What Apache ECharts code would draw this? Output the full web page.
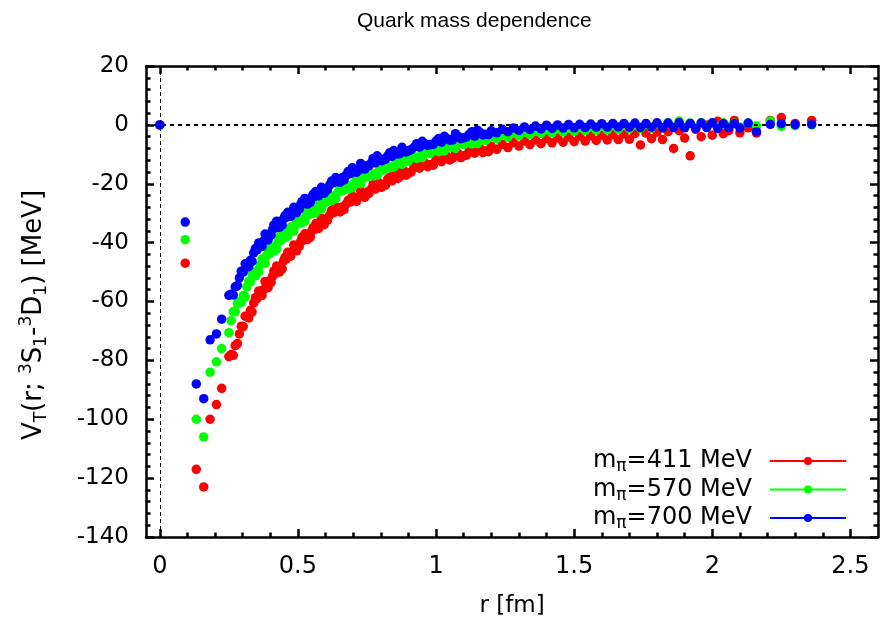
<!DOCTYPE html>
<html>
<head>
<meta charset="utf-8">
<script src="https://cdn.jsdelivr.net/npm/echarts@6/dist/echarts.min.js"></script>
<style>
html,body{margin:0;padding:0;background:#fff;}
#chart{width:885px;height:628px;}
</style>
</head>
<body>
<div id="chart"></div>
<script>
// ---- data ----
const rValues = [
  0, 0.092, 0.132, 0.159, 0.182, 0.205, 0.224, 0.258, 0.273, 0.288,
  0.302, 0.315, 0.328, 0.340, 0.352, 0.364, 0.375, 0.386, 0.397, 0.408,
  0.418, 0.428, 0.438, 0.448, 0.458, 0.468, 0.48, 0.49, 0.50, 0.51,
  0.52, 0.53, 0.54, 0.55, 0.56, 0.57, 0.58, 0.59, 0.60, 0.615,
  0.63, 0.645, 0.66, 0.675, 0.69, 0.705, 0.72, 0.735, 0.75, 0.765,
  0.78, 0.795, 0.81, 0.825, 0.84, 0.855, 0.87, 0.885, 0.90, 0.92,
  0.94, 0.96, 0.98, 1.00, 1.02, 1.04, 1.06, 1.08, 1.10, 1.12,
  1.14, 1.16, 1.18, 1.20, 1.22, 1.24, 1.26, 1.28, 1.30, 1.32,
  1.34, 1.36, 1.38, 1.40, 1.42, 1.44, 1.46, 1.48, 1.50, 1.52,
  1.54, 1.56, 1.58, 1.60, 1.62, 1.64, 1.66, 1.68, 1.70, 1.72,
  1.74, 1.76, 1.78, 1.80, 1.82, 1.84, 1.86, 1.88, 1.90, 1.92,
  1.94, 1.96, 1.98, 2.00, 2.02, 2.04, 2.06, 2.08, 2.10, 2.13,
  2.16, 2.21, 2.25, 2.30, 2.36
];
const vRed = [
  0, -47, -117, -123, -100, -95, -89.5, -78, -75, -71,
  -68.5, -65, -63, -60.5, -59, -57, -56, -54, -53, -51.5,
  -50.5, -48.8, -48, -46.2, -45.5, -43.8, -43, -41.6, -41, -39.6,
  -39.2, -37.8, -37.2, -36, -35.5, -34.2, -33.8, -32.6, -32.1, -30.6,
  -29.8, -28.5, -27.9, -26.8, -26.2, -25, -24.5, -23.3, -22.8, -21.8,
  -21.8, -19.8, -20.3, -18.4, -19.0, -16.9, -17.5, -15.7, -16.4, -14.3,
  -14.7, -13.0, -13.5, -11.8, -12.5, -10.7, -11.3, -9.7, -10.5, -8.8,
  -9.6, -8.0, -8.9, -7.3, -8.3, -6.6, -7.7, -6.0, -7.2, -5.5,
  -6.7, -5.1, -6.4, -4.7, -6.1, -4.4, -5.9, -4.1, -5.7, -3.9,
  -5.5, -3.7, -5.3, -3.5, -5.1, -3.3, -5.0, -3.1, -4.9, -3.0,
  -6.8, -2.8, -4.7, -2.5, -5.0, -2.3, -8.0, -2.0, -4.5, -10.5,
  -1.5, -4.0, 0, -3.5, 1.2, -3.0, -2.0, 1.5, -2.7, -1.0,
  -2.8, 1.5, 2.5, 0.5, 1.5
];
const vGreen = [
  0, -39, -100, -106, -84, -80.5, -76, -66.5, -63.5, -60,
  -58, -55, -53.3, -51, -49.5, -47.5, -46.3, -44.5, -43.8, -42,
  -41.3, -39.8, -39.2, -37.8, -37.2, -35.9, -35.4, -34.1, -33.6, -32.4,
  -32, -30.9, -30.5, -29.4, -29.1, -28, -27.7, -26.7, -26.4, -25.1,
  -24.2, -23, -22.4, -21.3, -20.7, -19.7, -19.2, -18.2, -17.7, -16.8,
  -16.6, -15.3, -15.4, -14.0, -14.3, -12.9, -13.2, -11.9, -12.3, -10.7,
  -10.8, -9.4, -9.7, -8.3, -8.7, -7.2, -7.6, -6.2, -6.7, -5.3,
  -5.9, -4.6, -5.3, -4.0, -4.7, -3.4, -4.2, -2.9, -3.7, -2.4,
  -3.3, -2.0, -2.9, -1.7, -2.7, -1.4, -2.4, -1.1, -2.2, -0.9,
  -2.0, -0.7, -1.8, -0.5, -1.7, -0.3, -1.5, -0.1, -1.3, 0,
  -1.2, 0.2, -1.1, 0.4, -1.0, 0.7, -0.9, 1.3, -0.8, 0.6,
  -0.9, 0.8, -0.7, 0.5, -0.8, 0.7, -0.5, 0.6, -0.7, 0.6,
  -0.3, 1.3, -0.5, -0.3, 0
];
const vBlue = [
  0, -33, -88, -93, -73, -71, -66, -57.5, -55, -52,
  -50, -47.5, -46, -43.5, -42.5, -40.5, -39.5, -37.8, -37.2, -35.6,
  -35, -33.6, -33.2, -31.9, -31.4, -30.3, -29.9, -28.6, -28.2, -27.1,
  -26.8, -25.8, -25.5, -24.5, -24.3, -23.2, -22.9, -21.9, -21.6, -20.4,
  -19.6, -18.5, -18, -17, -16.6, -15.6, -15.3, -14.3, -13.9, -13,
  -12.9, -11.6, -11.7, -10.5, -10.7, -9.5, -9.7, -8.6, -8.8, -7.6,
  -7.6, -6.4, -6.7, -5.5, -5.9, -4.7, -5.1, -3.9, -4.4, -3.2,
  -3.8, -2.6, -3.2, -2.0, -2.7, -1.5, -2.3, -1.1, -1.9, -0.7,
  -1.6, -0.4, -1.4, -0.1, -1.2, 0, -1.1, 0.1, -1.0, 0.2,
  -0.9, 0.3, -0.8, 0.4, -0.8, 0.5, -0.7, 0.5, -0.8, 0.6,
  -0.9, 0.5, -0.8, 0.7, -1.0, 0.6, -0.9, 0.7, -1.0, 0.5,
  -1.2, 0.6, -0.9, 0.7, -1.2, 0.4, -1.0, 0.5, -1.1, 0.6,
  -2.3, 0.2, 0.4, 0.1, 0.2
];
// second set of lattice distances (the dense band between 0.25 and 1.2 fm)
const rValuesB = [
  0.250, 0.266, 0.281, 0.295, 0.309, 0.322, 0.334, 0.346, 0.358, 0.370,
  0.381, 0.392, 0.403, 0.413, 0.423, 0.433, 0.443, 0.453, 0.463, 0.474,
  0.485, 0.495, 0.505, 0.515, 0.525, 0.535, 0.545, 0.555, 0.565, 0.575,
  0.585, 0.595, 0.607, 0.622, 0.637, 0.652, 0.667, 0.682, 0.697, 0.712,
  0.727, 0.742, 0.757, 0.772, 0.787, 0.802, 0.817, 0.832, 0.847, 0.862,
  0.877, 0.892, 0.91, 0.93, 0.95, 0.97, 0.99, 1.01, 1.03, 1.05,
  1.07, 1.09, 1.11, 1.13, 1.15, 1.17, 1.19
];
const vRedB = [
  -78.7, -78.3, -74.3, -68.4, -65, -65.6, -63.6, -58.7, -56.4, -57.9,
  -53.2, -55.3, -53.5, -49.6, -47.9, -50, -48.9, -45, -43.3, -44.6,
  -40.8, -42.8, -41.3, -38.2, -37, -38.9, -38.1, -34.9, -33.5, -35.2,
  -31.7, -33.9, -32.4, -29, -27.7, -29.6, -28.8, -25.6, -24.2, -26,
  -22.4, -24.6, -23.3, -20.3, -19.3, -21.2, -20.5, -17.9, -16.8, -18.2,
  -15.3, -17.1, -16, -13.4, -12.5, -14.2, -13.7, -11.2, -10.3, -11.9,
  -9.2, -11.1, -10.3, -8.1, -7.5, -9.4, -9.1
];
const vGreenB = [
  -70.6, -63.4, -60.7, -60.3, -58.4, -53.1, -50.7, -51.3, -49.9, -45.6,
  -47, -42.5, -41.5, -42.8, -42.2, -38.1, -36.9, -38.3, -37.8, -34.7,
  -36.1, -32.6, -32.1, -33.2, -32.8, -29.5, -28.7, -30.1, -29.8, -26.9,
  -28.5, -25.3, -24.8, -25.7, -25.1, -21.6, -20.6, -21.8, -21.4, -18.4,
  -20, -16.6, -16.2, -17.4, -17.1, -14.3, -13.6, -14.6, -14.4, -12.1,
  -13.4, -10.9, -10.5, -11.4, -11.1, -8.6, -8, -9.1, -8.9, -6.7,
  -8, -5.6, -5.4, -6.5, -6.4, -4.1, -3.7
];
const vBlueB = [
  -57.9, -57.8, -54.6, -49.7, -47.2, -48.2, -46.4, -42, -40.1, -41.3,
  -37.1, -39.1, -37.5, -34, -32.7, -34.8, -34.1, -30.9, -29.7, -31.1,
  -28, -29.8, -28.6, -26, -25, -26.9, -26.3, -23.6, -22.6, -24.1,
  -21.2, -23.2, -22, -19.1, -17.9, -19.5, -18.7, -15.8, -14.6, -16.1,
  -13.1, -15, -13.9, -11.4, -10.5, -12.2, -11.6, -9.5, -8.7, -9.9,
  -7.6, -9.2, -8.4, -6.4, -5.6, -7, -6.6, -4.6, -3.9, -5.2,
  -3, -4.7, -4.1, -2.3, -1.8, -3.4, -3.3
];
const seriesNames = ['m_pi=411 MeV', 'm_pi=570 MeV', 'm_pi=700 MeV'];
const legendMass = ['411', '570', '700'];
const seriesColors = ['#ff0000', '#00ff00', '#0000ff'];
const xTickValues = [0, 0.5, 1, 1.5, 2, 2.5];
const xMinorTickValues = [0.1, 0.2, 0.3, 0.4, 0.6, 0.7, 0.8, 0.9, 1.1, 1.2, 1.3, 1.4,
  1.6, 1.7, 1.8, 1.9, 2.1, 2.2, 2.3, 2.4];
const xRange = [-0.05, 2.6];
const yRange = [-140, 20];
const yInterval = 20;

// ---- chart ----
const FONT = '"DejaVu Sans", Verdana, sans-serif';
const TFONT = '"Liberation Sans", Arial, Helvetica, sans-serif';
const BLACK = '#000';
const lineSt = { color: BLACK, width: 2.5 };

function zip(r, v) { return r.map((x, i) => [x, v[i]]); }

function xAxisDef(position, ticks, len, showLine, labels) {
  return {
    type: 'value', position: position, min: xRange[0], max: xRange[1],
    axisLine: { show: showLine, onZero: false, lineStyle: lineSt },
    axisTick: { show: true, inside: true, length: len, customValues: ticks, lineStyle: lineSt },
    axisLabel: labels ? { show: true, customValues: xTickValues, fontSize: 24, color: BLACK, fontFamily: FONT, margin: 18 } : { show: false },
    splitLine: { show: false }
  };
}
function yAxisDef(position, labels) {
  return {
    type: 'value', position: position, min: yRange[0], max: yRange[1], interval: yInterval,
    axisLine: { show: true, onZero: false, lineStyle: lineSt },
    axisTick: { show: true, inside: true, length: 8, lineStyle: lineSt },
    minorTick: { show: true, splitNumber: 5, length: 4.5, lineStyle: lineSt },
    axisLabel: labels ? { show: true, fontSize: 23, color: BLACK, fontFamily: FONT, margin: 17 } : { show: false },
    splitLine: { show: false }
  };
}

const xAxes = [
  xAxisDef('bottom', xTickValues, 8, true, true),
  xAxisDef('bottom', xMinorTickValues, 4.5, false, false),
  xAxisDef('top', xTickValues, 8, true, false),
  xAxisDef('top', xMinorTickValues, 4.5, false, false)
];
Object.assign(xAxes[0], {
  name: 'r [fm]', nameLocation: 'middle', nameGap: 58,
  nameTextStyle: { fontSize: 23, color: BLACK, fontFamily: FONT }
});
const yAxes = [yAxisDef('left', true), yAxisDef('right', false)];
Object.assign(yAxes[0], {
  name: '{a|V}{s|T}{a|(r; }{p|3}{a|S}{s|1}{a|-}{p|3}{a|D}{s|1}{a|) [MeV]}',
  nameLocation: 'middle', nameRotate: 90, nameGap: 96,
  nameTextStyle: {
    fontSize: 26, color: BLACK, fontFamily: FONT, padding: [0, 27, 0, 0],
    rich: {
      a: { fontSize: 26, color: BLACK, fontFamily: FONT },
      s: { fontSize: 17, color: BLACK, fontFamily: FONT, padding: [15, 0, 0, 0] },
      p: { fontSize: 17, color: BLACK, fontFamily: FONT, padding: [0, 0, 15, 0] }
    }
  }
});

const mainSets = [vRed, vGreen, vBlue];
const extraSets = [vRedB, vGreenB, vBlueB];
const seriesList = mainSets.map((v, i) => ({
  type: 'scatter', name: seriesNames[i],
  xAxisIndex: 0, yAxisIndex: 0,
  data: zip(rValues, v).concat(zip(rValuesB, extraSets[i])),
  symbol: 'circle', symbolSize: 9.5,
  itemStyle: { color: seriesColors[i], opacity: 1 },
  z: 3 + i
}));
seriesList[0].markLine = {
  silent: true, symbol: 'none', animation: false,
  label: { show: false },
  data: [
    { yAxis: 0, lineStyle: { color: BLACK, width: 2, type: [4, 4] } },
    { xAxis: 0, lineStyle: { color: BLACK, width: 1, type: [4, 3] } }
  ]
};

const chart = echarts.init(document.getElementById('chart'), null, { renderer: 'canvas' });
chart.setOption({
  animation: false,
  backgroundColor: '#fff',
  title: {
    text: 'Quark mass dependence', left: 357, top: 11, padding: 0,
    textStyle: { fontSize: 21, fontWeight: 'normal', color: BLACK, fontFamily: TFONT }
  },
  grid: { left: 146, right: 7, top: 66, bottom: 91, containLabel: false },
  legend: {
    orient: 'vertical', right: 39, top: 449, padding: 0, align: 'right',
    itemWidth: 76, itemHeight: 8, itemGap: 2,
    icon: 'path://M0,3L76,3L76,5L0,5Z M34,4a4,4 0 1,1 8,0a4,4 0 1,1 -8,0Z',
    data: seriesNames,
    formatter: function (name) {
      const i = seriesNames.indexOf(name);
      return '{a|m}{s|\u03c0}{b|=' + legendMass[i] + ' MeV}';
    },
    textStyle: {
      fontSize: 24, color: BLACK, fontFamily: FONT,
      rich: {
        a: { fontSize: 24, color: BLACK, fontFamily: FONT },
        s: { fontSize: 17, color: BLACK, fontFamily: FONT, padding: [12, 0, 0, 0] },
        b: { fontSize: 24, color: BLACK, fontFamily: FONT, padding: [0, 13, 0, 0] }
      }
    }
  },
  xAxis: xAxes,
  yAxis: yAxes,
  series: seriesList
});
</script>
</body>
</html>
